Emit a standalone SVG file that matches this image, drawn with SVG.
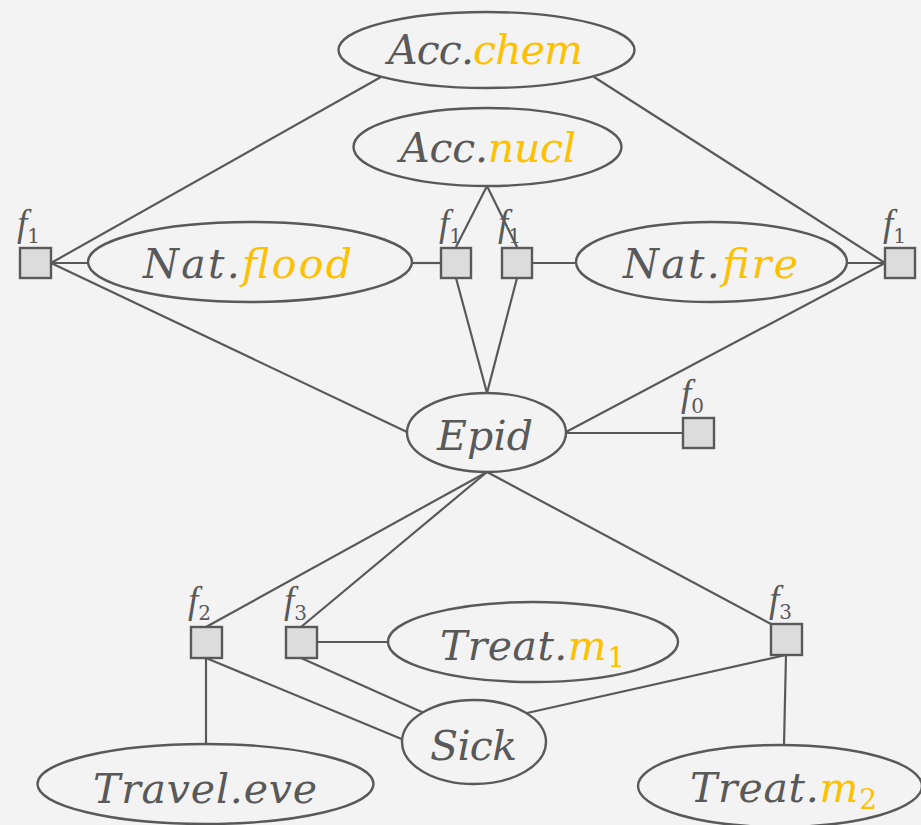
<svg xmlns="http://www.w3.org/2000/svg" width="921" height="825" viewBox="0 0 921 825">
  <defs>
    <style>
      .bg { fill: #f3f3f3; }
      .edge { stroke: #595959; stroke-width: 2.2; fill: none; }
      .var { fill: #f3f3f3; stroke: #595959; stroke-width: 2.4; }
      .fac { fill: #dcdcdc; stroke: #595959; stroke-width: 2.4; }
      .lbl { font-family: "DejaVu Serif", "Liberation Serif", serif; font-style: italic; font-size: 41px; fill: #595959; }
      .hl { fill: #ffc000; }
      .flbl { font-family: "Liberation Serif", "DejaVu Serif", serif; font-style: italic; font-size: 37px; fill: #595959; }
      .sub { font-family: "DejaVu Serif", serif; font-style: normal; font-size: 20px; }
      .vsub { font-style: normal; font-size: 28px; }
    </style>
  </defs>
  <rect class="bg" x="0" y="0" width="921" height="825"/>

  <g id="connectors">
    <line class="edge" x1="381" y1="77" x2="51" y2="263"/>
    <line class="edge" x1="594" y1="77" x2="885" y2="263"/>
    <line class="edge" x1="487" y1="186" x2="456" y2="247"/>
    <line class="edge" x1="487" y1="186" x2="517" y2="247"/>
    <line class="edge" x1="51" y1="263" x2="88" y2="263"/>
    <line class="edge" x1="412" y1="263" x2="441" y2="263"/>
    <line class="edge" x1="532" y1="263" x2="576" y2="263"/>
    <line class="edge" x1="847" y1="263" x2="885" y2="263"/>
    <line class="edge" x1="51" y1="263" x2="407" y2="432"/>
    <line class="edge" x1="885" y1="263" x2="566" y2="432"/>
    <line class="edge" x1="456" y1="278" x2="487" y2="393"/>
    <line class="edge" x1="517" y1="278" x2="487" y2="393"/>
    <line class="edge" x1="566" y1="433" x2="683" y2="433"/>
    <line class="edge" x1="487" y1="472" x2="206" y2="627"/>
    <line class="edge" x1="487" y1="472" x2="301" y2="627"/>
    <line class="edge" x1="487" y1="472" x2="771" y2="624"/>
    <line class="edge" x1="206" y1="658" x2="206" y2="745"/>
    <line class="edge" x1="206" y1="658" x2="404" y2="740"/>
    <line class="edge" x1="301" y1="658" x2="424" y2="713"/>
    <line class="edge" x1="317" y1="642" x2="389" y2="642"/>
    <line class="edge" x1="786" y1="655" x2="527" y2="713"/>
    <line class="edge" x1="786" y1="655" x2="784" y2="745"/>
  </g>

  <g id="acc-chem">
    <ellipse class="var" cx="486.5" cy="50" rx="148" ry="38"/>
    <text class="lbl" x="388" y="64" textLength="195" lengthAdjust="spacing">Acc.<tspan class="hl">chem</tspan></text>
  </g>
  <g id="acc-nucl">
    <ellipse class="var" cx="487.5" cy="147" rx="134" ry="39"/>
    <text class="lbl" x="400" y="162" textLength="176" lengthAdjust="spacing">Acc.<tspan class="hl">nucl</tspan></text>
  </g>
  <g id="nat-flood">
    <ellipse class="var" cx="250" cy="262" rx="162" ry="40"/>
    <text class="lbl" x="143" y="278" textLength="209" lengthAdjust="spacing">Nat.<tspan class="hl">flood</tspan></text>
  </g>
  <g id="nat-fire">
    <ellipse class="var" cx="711.5" cy="262" rx="135.5" ry="40"/>
    <text class="lbl" x="623" y="278" textLength="175" lengthAdjust="spacing">Nat.<tspan class="hl">fire</tspan></text>
  </g>
  <g id="epid">
    <ellipse class="var" cx="486.5" cy="432.5" rx="79.5" ry="39.5"/>
    <text class="lbl" x="437" y="450" textLength="96" lengthAdjust="spacing">Epid</text>
  </g>
  <g id="treat-m1">
    <ellipse class="var" cx="533" cy="642" rx="145" ry="40"/>
    <text class="lbl" x="440" y="660" textLength="185" lengthAdjust="spacing">Treat.<tspan class="hl">m</tspan><tspan class="hl vsub" dy="7">1</tspan></text>
  </g>
  <g id="sick">
    <ellipse class="var" cx="474" cy="742" rx="72" ry="42"/>
    <text class="lbl" x="430" y="760" textLength="87" lengthAdjust="spacing">Sick</text>
  </g>
  <g id="travel-eve">
    <ellipse class="var" cx="205.5" cy="784" rx="168" ry="40"/>
    <text class="lbl" x="93" y="803" textLength="224" lengthAdjust="spacing">Travel.eve</text>
  </g>
  <g id="treat-m2">
    <ellipse class="var" cx="780" cy="786" rx="142" ry="41"/>
    <text class="lbl" x="690" y="802" textLength="187" lengthAdjust="spacing">Treat.<tspan class="hl">m</tspan><tspan class="hl vsub" dy="7">2</tspan></text>
  </g>

  <g id="f1-left">
    <rect class="fac" x="20" y="248" width="31" height="30"/>
    <text class="flbl" x="17" y="236">f<tspan class="sub" dy="7">1</tspan></text>
  </g>
  <g id="f1-flood">
    <rect class="fac" x="441" y="248" width="30" height="30"/>
    <text class="flbl" x="439" y="236">f<tspan class="sub" dy="7">1</tspan></text>
  </g>
  <g id="f1-fire">
    <rect class="fac" x="502" y="248" width="30" height="30"/>
    <text class="flbl" x="498" y="236">f<tspan class="sub" dy="7">1</tspan></text>
  </g>
  <g id="f1-right">
    <rect class="fac" x="885" y="248" width="30" height="30"/>
    <text class="flbl" x="883" y="236">f<tspan class="sub" dy="7">1</tspan></text>
  </g>
  <g id="f0">
    <rect class="fac" x="683" y="418" width="31" height="30"/>
    <text class="flbl" x="681" y="406">f<tspan class="sub" dy="7">0</tspan></text>
  </g>
  <g id="f2">
    <rect class="fac" x="191" y="627" width="31" height="31"/>
    <text class="flbl" x="188" y="613">f<tspan class="sub" dy="7">2</tspan></text>
  </g>
  <g id="f3-m1">
    <rect class="fac" x="286" y="627" width="31" height="31"/>
    <text class="flbl" x="284" y="613">f<tspan class="sub" dy="7">3</tspan></text>
  </g>
  <g id="f3-m2">
    <rect class="fac" x="771" y="624" width="31" height="31"/>
    <text class="flbl" x="769" y="612">f<tspan class="sub" dy="7">3</tspan></text>
  </g>
</svg>
